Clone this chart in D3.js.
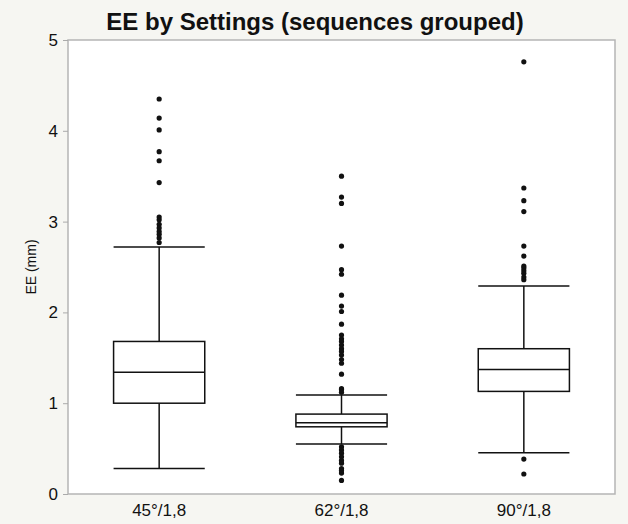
<!DOCTYPE html>
<html>
<head>
<meta charset="utf-8">
<script src="https://d3js.org/d3.v7.min.js"></script>
<style>
  body { margin: 0; background: #f6f6f2; }
  text { font-family: "Liberation Sans", Arial, sans-serif; }
</style>
</head>
<body>
<script>
// box plot summary per setting
var settings = ["45°/1,8", "62°/1,8", "90°/1,8"];
var whiskerLow  = [0.28, 0.55, 0.455];
var q1          = [1.00, 0.74, 1.13];
var median      = [1.34, 0.785, 1.37];
var q3          = [1.68, 0.88, 1.60];
var whiskerHigh = [2.72, 1.09, 2.29];

var outliers45 = [4.35, 4.14, 4.01, 3.77, 3.67, 3.43, 3.05, 3.02, 2.97, 2.93, 2.89, 2.86, 2.82, 2.77];
var outliers62 = [3.50, 3.27, 3.20, 2.73, 2.47, 2.42, 2.19, 2.07, 2.01, 1.87, 1.75, 1.71, 1.68, 1.64,
                  1.60, 1.57, 1.53, 1.48, 1.44, 1.32, 1.16, 1.15, 1.12,
                  0.52, 0.485, 0.45, 0.41, 0.37, 0.34, 0.28, 0.26, 0.23, 0.15];
var outliers90 = [4.76, 3.37, 3.23, 3.11, 2.73, 2.62, 2.51, 2.49, 2.46, 2.43, 2.39, 2.36, 0.385, 0.22];

var yTicks = [0, 1, 2, 3, 4, 5];

var width = 628, height = 524;
var margin = {top: 40, right: 13, bottom: 30, left: 68};

var svg = d3.select('body').append('svg')
   .attr("width", width)
   .attr("height", height);

var x = d3.scaleBand()
  .domain(settings)
  .range([margin.left, width - margin.right]);

var y = d3.scaleLinear()
  .domain([0, 5])
  .range([height - margin.bottom, margin.top]);

// plot area
svg.append("rect")
  .attr("x", margin.left)
  .attr("y", margin.top)
  .attr("width", width - margin.left - margin.right)
  .attr("height", height - margin.top - margin.bottom)
  .attr("fill", "#fff")
  .attr("stroke", "#b5b5b5")
  .attr("stroke-width", 1.5);

// y axis
var yAxis = svg.append("g")
  .attr("transform", "translate(" + margin.left + ",0)")
  .call(d3.axisLeft(y).tickValues(yTicks).tickSize(5).tickPadding(5).tickFormat(d3.format("d")));
yAxis.select(".domain").remove();
yAxis.selectAll("line").attr("stroke", "#aaa");
yAxis.selectAll("text").attr("font-size", 17).attr("fill", "#111");

// x axis
var xAxis = svg.append("g")
  .attr("transform", "translate(0," + (height - margin.bottom) + ")")
  .call(d3.axisBottom(x).tickSize(0).tickPadding(10));
xAxis.select(".domain").remove();
xAxis.selectAll("text").attr("font-size", 17).attr("fill", "#111");

var boxW = x.bandwidth() * 0.5;

var boxes = settings.map(function(s, i) {
  return {name: s, lo: whiskerLow[i], q1: q1[i], med: median[i], q3: q3[i], hi: whiskerHigh[i]};
});

var g = svg.selectAll(".box")
  .data(boxes)
  .enter()
  .append("g")
  .attr("class", "box")
  .attr("transform", function(d) { return "translate(" + (x(d.name) + x.bandwidth() / 2) + ",0)"; });

// whisker stems
g.append("line")
  .attr("x1", 0).attr("x2", 0)
  .attr("y1", function(d) { return y(d.hi); })
  .attr("y2", function(d) { return y(d.q3); })
  .attr("stroke", "#111").attr("stroke-width", 1.5);
g.append("line")
  .attr("x1", 0).attr("x2", 0)
  .attr("y1", function(d) { return y(d.q1); })
  .attr("y2", function(d) { return y(d.lo); })
  .attr("stroke", "#111").attr("stroke-width", 1.5);

// caps
["hi", "lo"].forEach(function(k) {
  g.append("line")
    .attr("x1", -boxW / 2).attr("x2", boxW / 2)
    .attr("y1", function(d) { return y(d[k]); })
    .attr("y2", function(d) { return y(d[k]); })
    .attr("stroke", "#111").attr("stroke-width", 1.5);
});

// box
g.append("rect")
  .attr("x", -boxW / 2)
  .attr("width", boxW)
  .attr("y", function(d) { return y(d.q3); })
  .attr("height", function(d) { return y(d.q1) - y(d.q3); })
  .attr("fill", "#fff")
  .attr("stroke", "#111")
  .attr("stroke-width", 1.5);

// median
g.append("line")
  .attr("x1", -boxW / 2).attr("x2", boxW / 2)
  .attr("y1", function(d) { return y(d.med); })
  .attr("y2", function(d) { return y(d.med); })
  .attr("stroke", "#111").attr("stroke-width", 1.5);

// outliers
var pts = [];
[outliers45, outliers62, outliers90].forEach(function(arr, i) {
  arr.forEach(function(v) { pts.push({name: settings[i], v: v}); });
});

svg.selectAll(".outlier")
  .data(pts)
  .enter()
  .append("circle")
  .attr("class", "outlier")
  .attr("cx", function(d) { return x(d.name) + x.bandwidth() / 2; })
  .attr("cy", function(d) { return y(d.v); })
  .attr("r", 2.6)
  .attr("fill", "#111");

// title
svg.append("text")
  .attr("x", 315)
  .attr("y", 30)
  .attr("text-anchor", "middle")
  .attr("font-size", 24)
  .attr("font-weight", "bold")
  .attr("fill", "#111")
  .text("EE by Settings (sequences grouped)");

// y label
svg.append("text")
  .attr("transform", "translate(36," + y(2.5) + ") rotate(-90)")
  .attr("text-anchor", "middle")
  .attr("font-size", 14)
  .attr("fill", "#111")
  .text("EE (mm)");
</script>
</body>
</html>
